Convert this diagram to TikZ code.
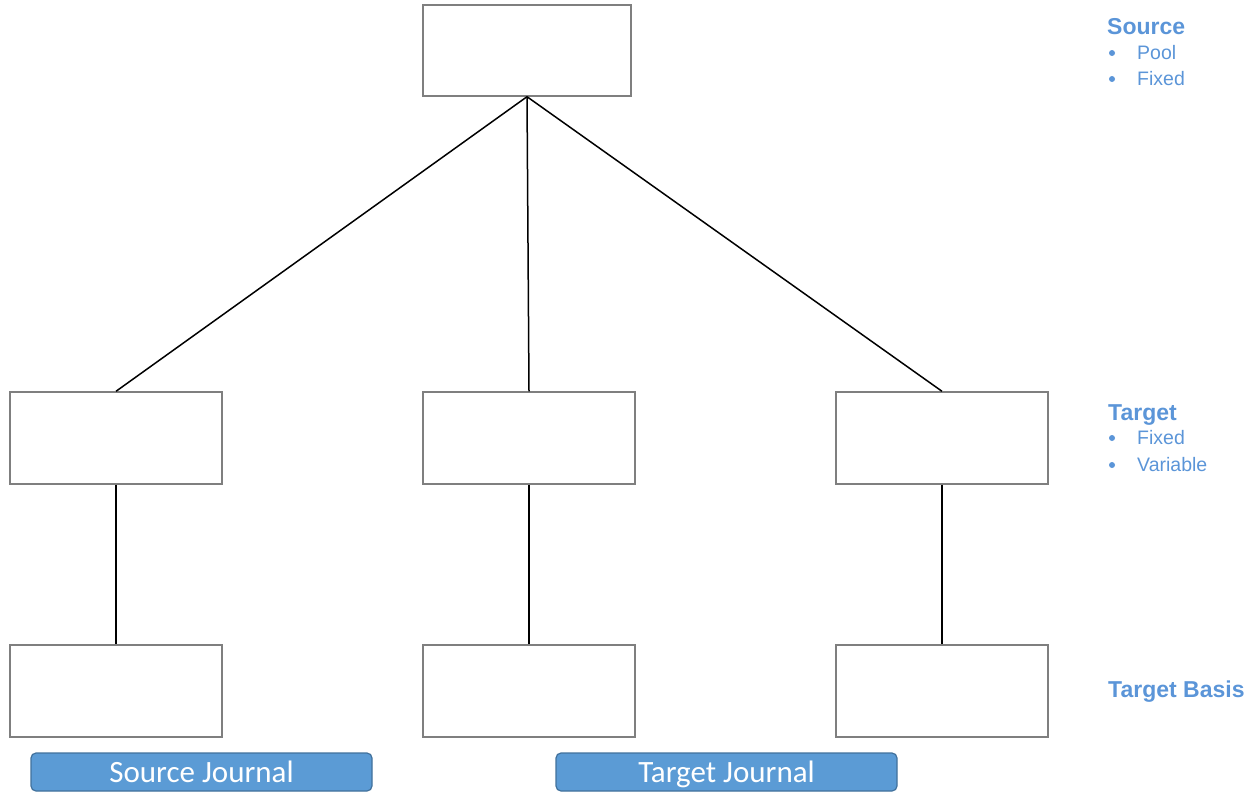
\documentclass[tikz,border=0pt]{standalone}
\usepackage{fontspec}
\setmainfont{Liberation Sans}
\newfontfamily\btnfont{Carlito}
\definecolor{legendblue}{HTML}{5B95D8}
\definecolor{btnfill}{HTML}{5B9BD5}
\definecolor{btnedge}{HTML}{41719C}
\definecolor{boxedge}{HTML}{7F7F7F}
\begin{document}
\begin{tikzpicture}[x=1pt,y=-1pt,
  blank/.style={draw=boxedge,line width=1.4pt,fill=white,inner sep=0pt},
  link/.style={draw=black,line width=1.5pt},
  journal/.style={draw=btnedge,line width=1.2pt,fill=btnfill,rounded corners=5pt,inner sep=0pt},
  jtext/.style={text=white,font=\btnfont\fontsize{31}{36}\selectfont,anchor=base,inner sep=0pt},
  head/.style={text=legendblue,font=\bfseries\fontsize{23}{26}\selectfont,anchor=base west,inner sep=0pt},
  item/.style={text=legendblue,font=\fontsize{19.5}{23}\selectfont,anchor=base west,inner sep=0pt},
  dot/.style={circle,fill=legendblue,inner sep=0pt,minimum size=6pt}]
\useasboundingbox (0,0) rectangle (1257,793);

% boxes
\node[blank,minimum width=208pt,minimum height=91pt] (top) at (527,50.5) {};
\node[blank,minimum width=212pt,minimum height=92pt] (ml) at (116,438) {};
\node[blank,minimum width=212pt,minimum height=92pt] (mc) at (529,438) {};
\node[blank,minimum width=212pt,minimum height=92pt] (mr) at (942,438) {};
\node[blank,minimum width=212pt,minimum height=92pt] (bl) at (116,691) {};
\node[blank,minimum width=212pt,minimum height=92pt] (bc) at (529,691) {};
\node[blank,minimum width=212pt,minimum height=92pt] (br) at (942,691) {};

% connectors
\draw[link] (top.south) -- (ml.north);
\draw[link] (top.south) -- (mc.north);
\draw[link] (top.south) -- (mr.north);
\draw[link] (ml.south) -- (bl.north);
\draw[link] (mc.south) -- (bc.north);
\draw[link] (mr.south) -- (br.north);

% journal buttons
\node[journal,minimum width=341pt,minimum height=38pt] (sj) at (201.5,772) {};
\node[jtext] (sjt) at (201.5,782) {Source Journal};
\node[journal,minimum width=341pt,minimum height=38pt] (tj) at (726.5,772) {};
\node[jtext] (tjt) at (726.5,782) {Target Journal};

% legend
\node[head] (hsrc) at (1107,34) {Source};
\node[dot] (d1) at (1112,53) {};
\node[item] (pool) at (1137,59) {Pool};
\node[dot] (d2) at (1112,79) {};
\node[item] (fix1) at (1137,85) {Fixed};

\node[head] (htgt) at (1108,420) {Target};
\node[dot] (d3) at (1112,438) {};
\node[item] (fix2) at (1137,444) {Fixed};
\node[dot] (d4) at (1112,465) {};
\node[item] (var) at (1137,471) {Variable};

\node[head] (hbas) at (1108,697) {Target Basis};
\end{tikzpicture}
\end{document}
